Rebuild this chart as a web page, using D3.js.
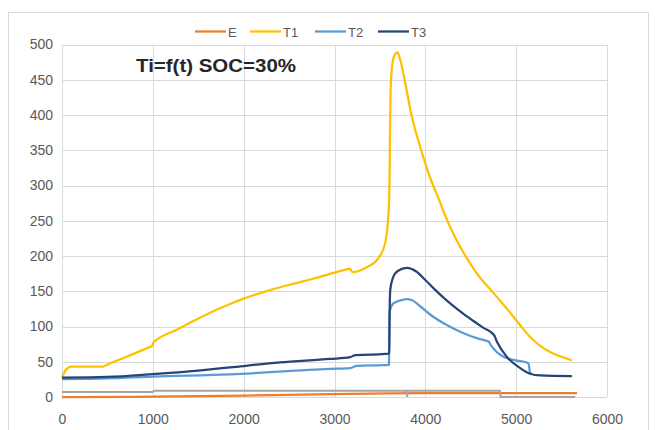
<!DOCTYPE html>
<html>
<head>
<meta charset="utf-8">
<script src="https://cdn.jsdelivr.net/npm/d3@7"></script>
<style>
  html, body { margin: 0; padding: 0; background: #fff; }
  svg { display: block; }
</style>
</head>
<body>
<svg id="chart" width="655" height="430"></svg>
<script>
// ---- data (time [s], temperature) ----
const seriesNames = ["E", "T1", "T2", "T3"];
const xTicks = [0, 1000, 2000, 3000, 4000, 5000, 6000];
const yTicks = [0, 50, 100, 150, 200, 250, 300, 350, 400, 450, 500];
const titleText = "Ti=f(t) SOC=30%";

const E = [[0,0],[1000,0.5],[2000,2],[2950,4.2],[3600,5.3],[4000,5.5],[5670,5.5]];

const T1 = [[0,28],[40,38],[100,43],[450,43],[460,43.6],[700,56.5],[900,67.2],[980,71.5],
  [990,72],[1010,78],[1040,81],
  [1263,95.5],[1450,108],[1630,119.5],[1850,132],[2000,139.5],[2300,152],[2621,163],
  [2841,170.5],[3135,181],[3170,182],[3200,177],[3250,178],[3355,184],[3484,197],
  [3557,218],[3594,260],[3605,300],[3612,380],[3618,436],[3640,475],[3670,487],
  [3693,489],[3722,479],[3756,460],[3851,398],[3943,355],[4053,311],[4150,280],
  [4236,252],[4330,226],[4420,205],[4510,186],[4604,169],[4700,155],[4787,142],
  [4900,125],[5007,108],[5081,96],[5154,85],[5260,73],[5374,64],[5500,57],[5613,52]];

const T2 = [[0,25.5],[500,26.5],[1000,29],[1850,32],[2951,40],[3172,41],[3245,44],
  [3590,45.5],[3600,46],[3605,118],[3612,124],[3650,133],[3759,138],[3796,139],
  [3850,137.5],[3950,128],[4053,117],[4236,102],[4420,90.5],[4600,82],[4695,78.6],
  [4732,71.5],[4860,57],[5000,52],[5136,48],[5150,36],[5165,33]];

const T3 = [[0,27.5],[500,28.5],[1000,32.5],[1500,37.5],[1850,42],[2400,49],[2951,54],
  [3172,56.5],[3230,59.5],[3400,60],[3594,61.5],[3602,62],[3608,130],[3614,152],
  [3640,168],[3700,179],[3796,183],[3900,178],[4000,166],[4100,153],[4200,141],
  [4300,130],[4420,118],[4550,106],[4640,98],[4732,91],[4760,87],[4790,78],
  [4897,57],[5044,41],[5154,33],[5264,30.5],[5613,29.5]];

// unnamed helper series (not in legend)
const S5 = [[0,7],[1000,7],[1010,8.8],[3795,8.8],[3800,0],[3805,8.8],[4820,8.8],
  [4830,0],[5650,0]];

const colors = { E: "#ed7d31", T1: "#ffc000", T2: "#5b9bd5", T3: "#264478", S5: "#a5a5a5" };

// ---- layout ----
const svg = d3.select("#chart");
const margin = { left: 62, right: 48, top: 44.5, bottom: 33 };
const W = 655, H = 430;
const x = d3.scaleLinear().domain([0, 6000]).range([margin.left, W - margin.right]);
const y = d3.scaleLinear().domain([0, 500]).range([H - margin.bottom, margin.top]);

// outer border
svg.append("rect").attr("x", 8.5).attr("y", 12.5).attr("width", 640).attr("height", 440)
  .attr("fill", "none").attr("stroke", "#d9d9d9").attr("stroke-width", 1);

// gridlines
const grid = svg.append("g");
grid.selectAll("line.h").data(yTicks).enter().append("line")
  .attr("x1", x(0)).attr("x2", x(6000))
  .attr("y1", d => Math.round(y(d)) + 0.5).attr("y2", d => Math.round(y(d)) + 0.5)
  .attr("stroke", "#d9d9d9").attr("stroke-width", 1);
grid.selectAll("line.v").data(xTicks).enter().append("line")
  .attr("y1", y(0)).attr("y2", y(500))
  .attr("x1", d => Math.round(x(d)) + 0.5).attr("x2", d => Math.round(x(d)) + 0.5)
  .attr("stroke", "#d9d9d9").attr("stroke-width", 1);

// axes (text only, via d3 axes)
const fontFam = "'Liberation Sans', Arial, sans-serif";
const yAxis = svg.append("g").attr("transform", `translate(${x(0) - 8},0)`)
  .call(d3.axisLeft(y).tickValues(yTicks).tickSize(0).tickPadding(9).tickFormat(d3.format("d")));
const xAxis = svg.append("g").attr("transform", `translate(0,${y(0) + 8})`)
  .call(d3.axisBottom(x).tickValues(xTicks).tickSize(0).tickPadding(9).tickFormat(d3.format("d")));
[yAxis, xAxis].forEach(a => {
  a.select(".domain").remove();
  a.selectAll("text").attr("fill", "#595959").style("font-family", fontFam).style("font-size", "14px");
});
yAxis.selectAll("text").attr("dx", "8");

// lines
const line = d3.line().x(d => x(d[0])).y(d => y(d[1])).curve(d3.curveMonotoneX);
const lineLin = d3.line().x(d => x(d[0])).y(d => y(d[1]));
const plot = svg.append("g");
plot.append("path").datum(E).attr("d", line).attr("fill", "none")
  .attr("stroke", colors.E).attr("stroke-width", 2.25);
plot.append("path").datum(T1).attr("d", line).attr("fill", "none")
  .attr("stroke", colors.T1).attr("stroke-width", 2.25).attr("stroke-linejoin", "round");
plot.append("path").datum(T2).attr("d", line).attr("fill", "none")
  .attr("stroke", colors.T2).attr("stroke-width", 2.25).attr("stroke-linejoin", "round");
plot.append("path").datum(T3).attr("d", line).attr("fill", "none")
  .attr("stroke", colors.T3).attr("stroke-width", 2.25).attr("stroke-linejoin", "round");
plot.append("path").datum(S5).attr("d", lineLin).attr("fill", "none")
  .attr("stroke", colors.S5).attr("stroke-width", 2);

// legend
const legendX = [195, 250, 315, 378];
const leg = svg.append("g");
seriesNames.forEach((n, i) => {
  const g = leg.append("g").attr("transform", `translate(${legendX[i]},31.5)`);
  g.append("line").attr("x1", 0).attr("x2", 31).attr("y1", 0).attr("y2", 0)
    .attr("stroke", colors[n]).attr("stroke-width", 2.25);
  g.append("text").attr("x", 33).attr("y", 5).text(n)
    .attr("fill", "#595959").style("font-family", fontFam).style("font-size", "13px");
});

// title inside plot
svg.append("text").attr("x", 136).attr("y", 72).text(titleText)
  .attr("fill", "#262626").style("font-family", fontFam).style("font-weight", "bold")
  .style("font-size", "18px").attr("textLength", 160).attr("lengthAdjust", "spacingAndGlyphs");
</script>
</body>
</html>
